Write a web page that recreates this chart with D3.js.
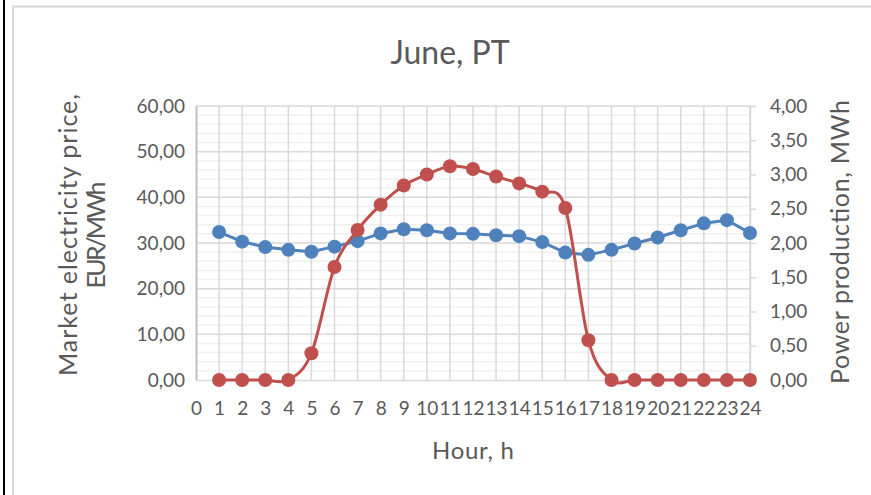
<!DOCTYPE html>
<html>
<head>
<meta charset="utf-8">
<script src="https://cdn.jsdelivr.net/npm/d3@7"></script>
<style>
  body { margin: 0; background: #fff; }
  text { font-family: Lato, "Open Sans", sans-serif; fill: #595959; }
</style>
</head>
<body>
<div id="chart"></div>
<script>
// chart data
const hours = [1, 2, 3, 4, 5, 6, 7, 8, 9, 10, 11, 12, 13, 14, 15, 16, 17, 18, 19, 20, 21, 22, 23, 24]
const price = [32.4, 30.3, 29.1, 28.5, 28.1, 29.2, 30.4, 32.1, 33.0, 32.8, 32.1, 32.0, 31.7, 31.5, 30.2, 27.9, 27.4, 28.5, 29.9, 31.2, 32.8, 34.3, 35.0, 32.2]
const power = [0, 0, 0, 0, 0.39, 1.65, 2.19, 2.56, 2.84, 3.00, 3.12, 3.08, 2.97, 2.87, 2.75, 2.51, 0.58, 0, 0, 0, 0, 0, 0, 0]
const xTicks = d3.range(0, 25)
const priceTicks = [0, 10, 20, 30, 40, 50, 60]
const powerTicks = [0, 0.5, 1, 1.5, 2, 2.5, 3, 3.5, 4]

const width = 871
const height = 495
const plot = { left: 196, right: 750, top: 106, bottom: 380 }
const blue = "#4f81bd"
const red = "#c0504d"
const fmt = d => d3.format(".2f")(d).replace(".", ",")

const svg = d3.select("#chart")
  .append("svg")
  .attr("width", width)
  .attr("height", height)

// outer frame
svg.append("rect")
  .attr("x", 3).attr("y", 0).attr("width", 2).attr("height", height)
  .attr("fill", "#000")
svg.append("rect")
  .attr("x", 13).attr("y", 6.5).attr("width", width).attr("height", height)
  .attr("fill", "none").attr("stroke", "#d9d9d9").attr("stroke-width", 2)

const x = d3.scaleLinear().domain([0, 24]).range([plot.left, plot.right])
const yL = d3.scaleLinear().domain([0, 60]).range([plot.bottom, plot.top])
const yR = d3.scaleLinear().domain([0, 4]).range([plot.bottom, plot.top])

// minor gridlines
svg.append("g")
  .selectAll("line")
  .data(d3.range(0, 61, 2).filter(d => d % 10 !== 0))
  .join("line")
  .attr("x1", plot.left).attr("x2", plot.right)
  .attr("y1", d => yL(d)).attr("y2", d => yL(d))
  .attr("stroke", "#f0f0f0").attr("stroke-width", 1.5)

// major gridlines
svg.append("g")
  .selectAll("line")
  .data(priceTicks.slice(1))
  .join("line")
  .attr("x1", plot.left).attr("x2", plot.right)
  .attr("y1", d => yL(d)).attr("y2", d => yL(d))
  .attr("stroke", "#d9d9d9").attr("stroke-width", 1.5)

svg.append("g")
  .selectAll("line")
  .data(xTicks.slice(1))
  .join("line")
  .attr("x1", d => x(d)).attr("x2", d => x(d))
  .attr("y1", plot.top).attr("y2", plot.bottom)
  .attr("stroke", "#d9d9d9").attr("stroke-width", 1.5)

// axes
const leftAxis = svg.append("g")
  .attr("transform", `translate(${plot.left},0)`)
  .call(d3.axisLeft(yL).tickValues(priceTicks).tickFormat(fmt).tickSize(0).tickPadding(11))
leftAxis.select(".domain").attr("stroke", "#bfbfbf").attr("stroke-width", 2)

const rightAxis = svg.append("g")
  .attr("transform", `translate(${plot.right},0)`)
  .call(d3.axisRight(yR).tickValues(powerTicks).tickFormat(fmt).tickSize(6).tickPadding(14))
rightAxis.select(".domain").attr("stroke", "#d9d9d9").attr("stroke-width", 1.5)
rightAxis.selectAll(".tick line").attr("stroke", "#d9d9d9").attr("stroke-width", 1.5)

const bottomAxis = svg.append("g")
  .attr("transform", `translate(0,${plot.bottom})`)
  .call(d3.axisBottom(x).tickValues(xTicks).tickFormat(d3.format("d")).tickSize(0).tickPadding(22))
bottomAxis.select(".domain").attr("stroke", "#d9d9d9").attr("stroke-width", 1.5)

svg.selectAll(".tick text")
  .attr("font-family", "Lato, sans-serif")
  .attr("font-size", 19)
  .attr("fill", "#595959")

// series
const priceLine = d3.line()
  .x((d, i) => x(hours[i]))
  .y(d => yL(d))

const powerLine = d3.line()
  .x((d, i) => x(hours[i]))
  .y(d => yR(d))
  .curve(d3.curveCardinal.tension(0))

svg.append("path")
  .attr("d", priceLine(price))
  .attr("fill", "none").attr("stroke", blue).attr("stroke-width", 3)

svg.append("g")
  .selectAll("circle")
  .data(price)
  .join("circle")
  .attr("cx", (d, i) => x(hours[i]))
  .attr("cy", d => yL(d))
  .attr("r", 7)
  .attr("fill", blue)

svg.append("path")
  .attr("d", powerLine(power))
  .attr("fill", "none").attr("stroke", red).attr("stroke-width", 3)

svg.append("g")
  .selectAll("circle")
  .data(power)
  .join("circle")
  .attr("cx", (d, i) => x(hours[i]))
  .attr("cy", d => yR(d))
  .attr("r", 7)
  .attr("fill", red)

// titles
svg.append("text")
  .attr("x", 450).attr("y", 64)
  .attr("text-anchor", "middle")
  .attr("font-size", 32)
  .text("June, PT")

svg.append("text")
  .attr("x", 473).attr("y", 459)
  .attr("text-anchor", "middle")
  .attr("font-size", 24)
  .attr("textLength", 82)
  .text("Hour, h")

const midY = 235
svg.append("text")
  .attr("transform", `translate(77,${midY}) rotate(-90)`)
  .attr("text-anchor", "middle")
  .attr("font-size", 25)
  .attr("textLength", 282)
  .text("Market electricity price,")
svg.append("text")
  .attr("transform", `translate(105,${midY}) rotate(-90)`)
  .attr("text-anchor", "middle")
  .attr("font-size", 25)
  .attr("textLength", 107)
  .text("EUR/MWh")

svg.append("text")
  .attr("transform", `translate(849,242) rotate(-90)`)
  .attr("text-anchor", "middle")
  .attr("font-size", 25)
  .attr("textLength", 284)
  .text("Power production, MWh")
</script>
</body>
</html>
